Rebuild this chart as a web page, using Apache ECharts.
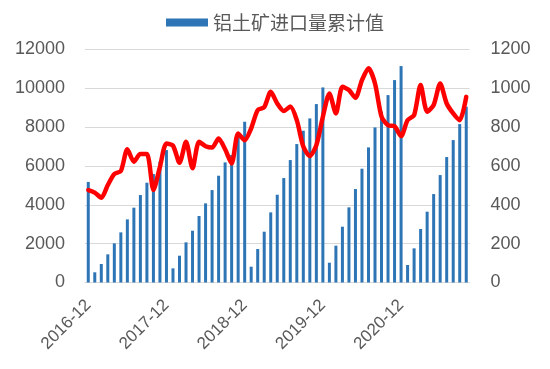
<!DOCTYPE html>
<html>
<head>
<meta charset="utf-8">
<script src="https://cdn.jsdelivr.net/npm/echarts@6/dist/echarts.min.js"></script>
<style>
html,body{margin:0;padding:0;background:#fff;}
#chart{width:550px;height:369px;}
</style>
</head>
<body>
<div id="chart"></div>
<script>
var categories = [
  '2016-12',
  '2017-01','2017-02','2017-03','2017-04','2017-05','2017-06','2017-07','2017-08','2017-09','2017-10','2017-11','2017-12',
  '2018-01','2018-02','2018-03','2018-04','2018-05','2018-06','2018-07','2018-08','2018-09','2018-10','2018-11','2018-12',
  '2019-01','2019-02','2019-03','2019-04','2019-05','2019-06','2019-07','2019-08','2019-09','2019-10','2019-11','2019-12',
  '2020-01','2020-02','2020-03','2020-04','2020-05','2020-06','2020-07','2020-08','2020-09','2020-10','2020-11','2020-12',
  '2021-01','2021-02','2021-03','2021-04','2021-05','2021-06','2021-07','2021-08','2021-09','2021-10'
];

var cumulativeImports = [
  5180,
  525, 952, 1450, 2016, 2582, 3251, 3853, 4505, 5139, 5585, 6221, 6820,
  729, 1381, 2068, 2667, 3424, 4076, 4761, 5500, 6186, 6568, 7559, 8280,
  814, 1724, 2617, 3611, 4520, 5380, 6306, 7130, 7817, 8451, 9189, 10046,
  1020, 1896, 2874, 3870, 4813, 5860, 6958, 7988, 8798, 9652, 10425, 11146,
  900, 1759, 2754, 3647, 4555, 5533, 6461, 7336, 8160, 9051
];

var monthlyImports = [
  476,
  463, 437, 502, 559, 574, 686, 622, 662, 662, 476, 596, 716,
  705, 617, 725, 588, 725, 702, 695, 742, 686, 613, 768, 733,
  794, 888, 903, 982, 922, 883, 906, 836, 700, 651, 707, 854,
  974, 871, 1008, 991, 951, 1042, 1103, 1025, 854, 810, 805, 754,
  836, 862, 1017, 880, 914, 1025, 922, 871, 836, 956
];

var barName = '铝土矿进口量累计值';
var lineName = '铝土矿进口量当月值';

var chart = echarts.init(document.getElementById('chart'), null, {renderer: 'canvas'});
var labelColor = '#595959';
var fontFam = '"Liberation Sans", Arial, sans-serif';
function plain(v) { return String(v); }

chart.setOption({
  animation: false,
  backgroundColor: '#ffffff',
  legend: {
    data: [barName],
    top: 8,
    left: 'center',
    itemWidth: 42,
    itemHeight: 8,
    icon: 'rect',
    textStyle: {color: labelColor, fontSize: 19, fontFamily: '"Noto Sans CJK SC", sans-serif'}
  },
  grid: {left: 85, right: 80.5, top: 49.5, bottom: 86.5, containLabel: false},
  xAxis: {
    type: 'category',
    data: categories,
    boundaryGap: true,
    axisLine: {show: true, lineStyle: {color: '#D9D9D9', width: 1}},
    axisTick: {show: false},
    axisLabel: {
      interval: 11,
      rotate: 45,
      margin: 20,
      color: labelColor,
      fontSize: 17,
      fontFamily: fontFam
    }
  },
  yAxis: [
    {
      type: 'value',
      min: 0, max: 12000, interval: 2000,
      axisLine: {show: false},
      axisTick: {show: false},
      splitLine: {show: true, lineStyle: {color: '#D9D9D9', width: 1}},
      axisLabel: {color: labelColor, fontSize: 18, margin: 20, fontFamily: fontFam, formatter: plain}
    },
    {
      type: 'value',
      min: 0, max: 1200, interval: 200,
      position: 'right',
      axisLine: {show: false},
      axisTick: {show: false},
      splitLine: {show: false},
      axisLabel: {color: labelColor, fontSize: 18, margin: 21, fontFamily: fontFam, formatter: plain}
    }
  ],
  series: [
    {
      name: barName,
      type: 'bar',
      yAxisIndex: 0,
      data: cumulativeImports,
      barWidth: 3,
      itemStyle: {color: '#2E75B6'},
      z: 2
    },
    {
      name: lineName,
      type: 'line',
      yAxisIndex: 1,
      data: monthlyImports,
      smooth: 0.25,
      showSymbol: false,
      symbol: 'none',
      lineStyle: {color: '#FF0000', width: 4.5, join: 'round', cap: 'round'},
      itemStyle: {color: '#FF0000'},
      z: 3
    }
  ]
});
</script>
</body>
</html>
